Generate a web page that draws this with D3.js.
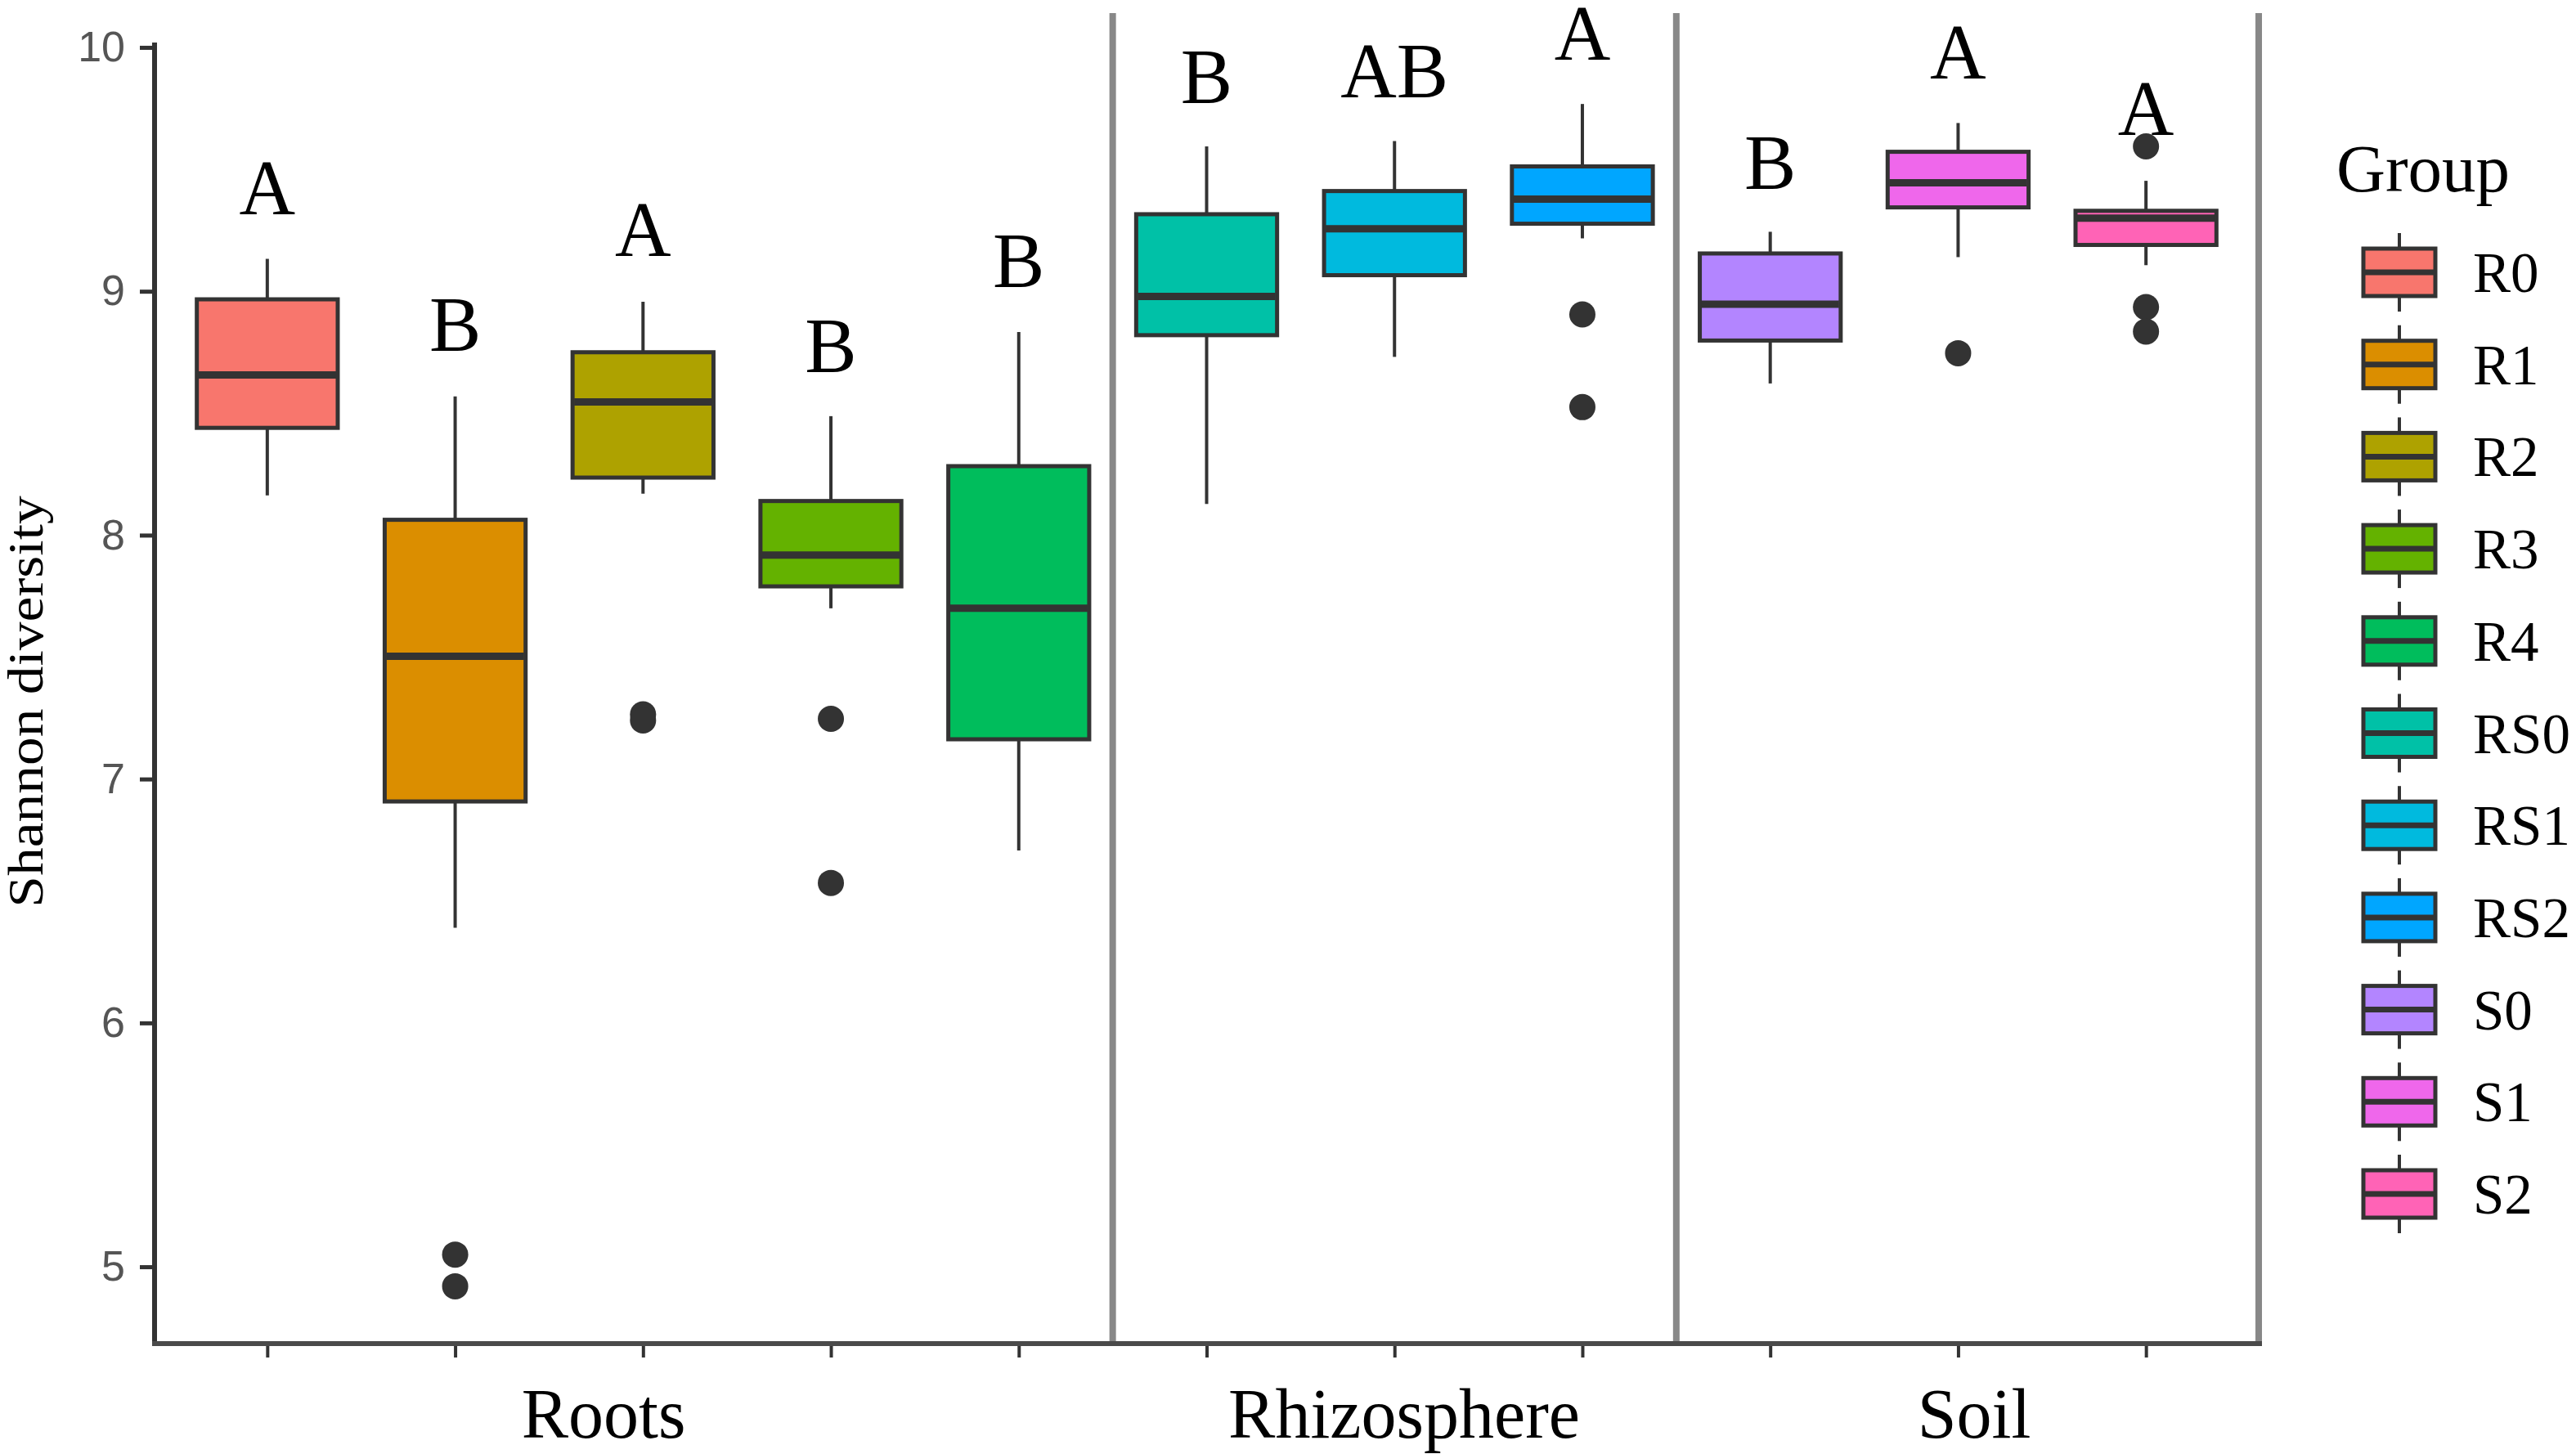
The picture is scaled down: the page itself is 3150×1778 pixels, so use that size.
<!DOCTYPE html>
<html>
<head>
<meta charset="utf-8">
<script src="https://cdn.jsdelivr.net/npm/d3@7"></script>
<style>
  body { margin: 0; background: #fff; }
  svg { display: block; }
</style>
</head>
<body>
<svg class="chart" width="3150" height="1778"></svg>
<script>
// Shannon diversity per group
const groups = ["R0", "R1", "R2", "R3", "R4", "RS0", "RS1", "RS2", "S0", "S1", "S2"];
const colors = ["#F8766D", "#DB8E00", "#AEA200", "#64B200", "#00BD5C", "#00C1A7",
                "#00BADE", "#00A6FF", "#B385FF", "#EF67EB", "#FF63B6"];
const whiskerLow  = [8.163, 6.39, 8.17, 7.70, 6.707, 8.128, 8.731, 9.217, 8.622, 9.14, 9.107];
const q1          = [8.44, 6.908, 8.236, 7.79, 7.163, 8.82, 9.066, 9.277, 8.798, 9.344, 9.19];
const median      = [8.657, 7.503, 8.546, 7.918, 7.70, 8.979, 9.256, 9.378, 8.947, 9.445, 9.30];
const q3          = [8.967, 8.063, 8.75, 8.14, 8.283, 9.316, 9.411, 9.512, 9.155, 9.572, 9.33];
const whiskerHigh = [9.133, 8.569, 8.957, 8.488, 8.833, 9.594, 9.616, 9.768, 9.244, 9.69, 9.453];
const outliers = [[], [5.05, 4.92], [7.265, 7.24], [7.247, 6.574], [], [], [],
                  [8.905, 8.525], [], [8.746], [9.594, 8.935, 8.835]];
// significance letters and the value level they sit at
const letters = ["A", "B", "A", "B", "B", "B", "AB", "A", "B", "A", "A"];
const letterLevel = [9.315, 8.756, 9.145, 8.669, 9.017, 9.772, 9.794, 9.95, 9.42, 9.874, 9.64];
const compartments = ["Roots", "Rhizosphere", "Soil"];
const yTicks = [5, 6, 7, 8, 9, 10];

const svg = d3.select(".chart");
const plotLeft = 189, plotRight = 2762, plotBottom = 1643, plotTop = 52;

const x = d3.scalePoint().domain(groups).range([plotLeft, plotRight]).padding(0.6);
const step = x.step();
const boxW = step * 0.75;
const y = d3.scaleLinear().domain([4.685, 10.02]).range([plotBottom, plotTop]);

const dark = "#333333";

// compartment dividers (after R4, after RS2, and right border)
const dividerX = [(x("R4") + x("RS0")) / 2, (x("RS2") + x("S0")) / 2, plotRight];
svg.selectAll(".divider").data(dividerX).enter().append("line")
  .attr("class", "divider")
  .attr("x1", d => d).attr("x2", d => d)
  .attr("y1", 16).attr("y2", plotBottom)
  .attr("stroke", "#888888").attr("stroke-width", 8);

// axes
const yAxis = d3.axisLeft(y).tickValues(yTicks).tickFormat(d3.format("d"))
  .tickSize(18).tickPadding(18);
const gy = svg.append("g").attr("transform", `translate(${plotLeft},0)`).call(yAxis);
gy.select(".domain").remove();
gy.append("line").attr("x1", 0).attr("x2", 0).attr("y1", plotTop).attr("y2", plotBottom + 3)
  .attr("stroke", dark).attr("stroke-width", 6);
gy.selectAll(".tick line").attr("stroke", dark).attr("stroke-width", 5);
gy.selectAll(".tick text")
  .attr("fill", "#555555")
  .style("font-family", "'Liberation Sans', Arial, sans-serif")
  .style("font-size", "52px");

const xAxis = d3.axisBottom(x).tickSize(17).tickFormat("");
const gx = svg.append("g").attr("transform", `translate(0,${plotBottom})`).call(xAxis);
gx.select(".domain").remove();
gx.append("line").attr("x1", plotLeft - 3).attr("x2", plotRight + 4).attr("y1", 0).attr("y2", 0)
  .attr("stroke", "#4a4a4a").attr("stroke-width", 6);
gx.selectAll(".tick line").attr("stroke", dark).attr("stroke-width", 4);

// boxes
const box = svg.selectAll(".box").data(groups).enter().append("g").attr("class", "box");
box.append("line")
  .attr("x1", d => x(d)).attr("x2", d => x(d))
  .attr("y1", (d, i) => y(whiskerHigh[i])).attr("y2", (d, i) => y(q3[i]))
  .attr("stroke", dark).attr("stroke-width", 4);
box.append("line")
  .attr("x1", d => x(d)).attr("x2", d => x(d))
  .attr("y1", (d, i) => y(q1[i])).attr("y2", (d, i) => y(whiskerLow[i]))
  .attr("stroke", dark).attr("stroke-width", 4);
box.append("rect")
  .attr("x", d => x(d) - boxW / 2).attr("width", boxW)
  .attr("y", (d, i) => y(q3[i])).attr("height", (d, i) => y(q1[i]) - y(q3[i]))
  .attr("fill", (d, i) => colors[i])
  .attr("stroke", dark).attr("stroke-width", 5);
box.append("line")
  .attr("x1", d => x(d) - boxW / 2 + 2).attr("x2", d => x(d) + boxW / 2 - 2)
  .attr("y1", (d, i) => y(median[i])).attr("y2", (d, i) => y(median[i]))
  .attr("stroke", dark).attr("stroke-width", 9);

// outliers
const pts = groups.flatMap((g, i) => outliers[i].map(v => ({ g, v })));
svg.selectAll(".outlier").data(pts).enter().append("circle")
  .attr("class", "outlier")
  .attr("cx", d => x(d.g)).attr("cy", d => y(d.v)).attr("r", 16)
  .attr("fill", dark);

// letters
svg.selectAll(".letter").data(groups).enter().append("text")
  .attr("class", "letter")
  .attr("x", d => x(d)).attr("y", (d, i) => y(letterLevel[i]))
  .attr("text-anchor", "middle")
  .style("font-family", "'Liberation Serif', 'Times New Roman', serif")
  .style("font-size", "95px")
  .text((d, i) => letters[i]);

// compartment labels under the axis
const compartmentX = [738, 1717, 2414];
svg.selectAll(".comp").data(compartments).enter().append("text")
  .attr("class", "comp")
  .attr("x", (d, i) => compartmentX[i]).attr("y", 1758)
  .attr("text-anchor", "middle")
  .style("font-family", "'Liberation Serif', 'Times New Roman', serif")
  .style("font-size", "86px")
  .text(d => d);

// y axis title (slightly stretched along its length, as in the figure)
svg.append("text")
  .attr("transform", "translate(52,858) rotate(-90) scale(1.12,1)")
  .attr("text-anchor", "middle")
  .style("font-family", "'Liberation Serif', 'Times New Roman', serif")
  .style("font-size", "62px")
  .text("Shannon diversity");

// legend
const legend = svg.append("g").attr("transform", "translate(2857,0)");
legend.append("text")
  .attr("x", 0).attr("y", 234)
  .style("font-family", "'Liberation Serif', 'Times New Roman', serif")
  .style("font-size", "83px")
  .text("Group");
const keyY = d3.scalePoint().domain(groups).range([333, 333 + 112.7 * 10]);
const key = legend.selectAll(".key").data(groups).enter().append("g")
  .attr("class", "key")
  .attr("transform", d => `translate(0,${keyY(d)})`);
key.append("line").attr("x1", 77).attr("x2", 77).attr("y1", -48).attr("y2", 48)
  .attr("stroke", dark).attr("stroke-width", 4);
key.append("rect").attr("x", 33).attr("y", -29).attr("width", 88).attr("height", 58)
  .attr("fill", (d, i) => colors[i]).attr("stroke", dark).attr("stroke-width", 5);
key.append("line").attr("x1", 35).attr("x2", 119).attr("y1", 0).attr("y2", 0)
  .attr("stroke", dark).attr("stroke-width", 7);
key.append("text")
  .attr("x", 167).attr("y", 24)
  .style("font-family", "'Liberation Serif', 'Times New Roman', serif")
  .style("font-size", "69px")
  .text(d => d);
</script>
</body>
</html>
